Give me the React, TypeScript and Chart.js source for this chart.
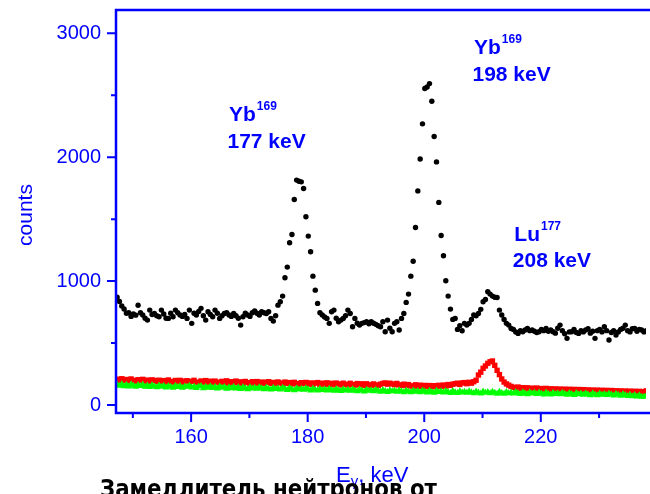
import { useEffect, useRef } from 'react';
import { Chart, registerables } from 'chart.js';
Chart.register(...registerables);

// channel calibration: energy of first channel and channel width (keV)
const E_START = 147.3;
const E_STEP = 0.4;

const blackCounts = [
  870, 835, 800, 775, 740, 745, 715, 735, 725, 805,
  745, 726, 700, 685, 766, 730, 739, 720, 712, 766,
  735, 700, 699, 740, 712, 766, 745, 726, 715, 730,
  699, 766, 659, 740, 726, 755, 780, 720, 685, 753,
  730, 712, 766, 740, 699, 720, 739, 745, 726, 715,
  739, 720, 700, 645, 712, 740, 726, 715, 745, 760,
  740, 726, 753, 745, 739, 753, 699, 677, 720, 806,
  833, 879, 1027, 1113, 1309, 1376, 1659, 1815, 1806, 1801,
  1747, 1519, 1363, 1237, 1040, 927, 820, 744, 726, 710,
  699, 659, 753, 766, 700, 672, 685, 699, 720, 766,
  739, 632, 699, 660, 645, 659, 665, 672, 655, 672,
  660, 651, 640, 632, 672, 591, 685, 620, 591, 659,
  672, 605, 699, 739, 828, 895, 1040, 1160, 1433, 1728,
  1986, 2269, 2554, 2567, 2594, 2452, 2167, 1962, 1635, 1368,
  1204, 1003, 879, 774, 691, 699, 610, 640, 599, 659,
  645, 659, 690, 726, 720, 739, 772, 833, 852, 914,
  895, 879, 870, 868, 766, 726, 690, 659, 645, 618,
  610, 590, 578, 600, 591, 605, 618, 600, 605, 595,
  585, 591, 610, 600, 618, 595, 605, 591, 580, 620,
  645, 600, 575, 538, 590, 591, 610, 585, 578, 600,
  590, 605, 615, 580, 595, 538, 600, 610, 590, 632,
  600, 524, 585, 600, 565, 590, 610, 620, 645, 600,
  590, 615, 618, 595, 610, 605, 590, 600,
];

const redCounts = [
  208, 198, 212, 196, 206, 192, 210, 199, 190, 204,
  195, 207, 191, 201, 188, 203, 198, 189, 200, 186,
  197, 185, 202, 190, 184, 198, 187, 199, 182, 193,
  196, 183, 191, 199, 185, 180, 194, 184, 197, 181,
  192, 179, 193, 184, 178, 191, 181, 195, 176, 188,
  182, 193, 177, 187, 175, 190, 180, 174, 188, 176,
  189, 175, 185, 173, 184, 188, 174, 182, 171, 186,
  178, 170, 185, 174, 181, 169, 183, 173, 167, 180,
  172, 182, 168, 178, 166, 177, 181, 167, 176, 165,
  179, 166, 175, 163, 177, 170, 162, 176, 167, 161,
  175, 165, 160, 173, 164, 171, 159, 171, 163, 158,
  170, 162, 157, 168, 174, 178, 168, 176, 170, 164,
  174, 162, 158, 168, 156, 165, 154, 152, 163, 150,
  160, 149, 158, 147, 157, 146, 156, 150, 159, 151,
  161, 153, 165, 158, 168, 172, 176, 166, 178, 181,
  172, 183, 176, 188, 200, 242, 265, 296, 315, 336,
  349, 355, 320, 280, 245, 210, 185, 170, 160, 150,
  143, 136, 145, 131, 140, 129, 139, 127, 136, 126,
  137, 124, 133, 122, 134, 121, 131, 120, 130, 118,
  129, 117, 128, 116, 127, 115, 126, 113, 125, 112,
  124, 111, 122, 109, 121, 108, 120, 107, 119, 106,
  118, 105, 117, 104, 115, 103, 114, 102, 113, 101,
  112, 100, 111, 99, 110, 98, 108, 114,
];

const greenCounts = [
  166, 155, 170, 152, 163, 149, 168, 156, 147, 162,
  153, 165, 148, 158, 145, 162, 152, 143, 157, 148,
  156, 142, 154, 147, 140, 156, 145, 153, 139, 150,
  147, 155, 141, 150, 138, 149, 154, 136, 148, 140,
  151, 137, 147, 134, 149, 140, 145, 132, 144, 136,
  148, 133, 144, 130, 146, 136, 128, 143, 133, 140,
  131, 144, 135, 127, 141, 132, 125, 140, 130, 135,
  126, 139, 131, 122, 137, 128, 120, 136, 126, 132,
  123, 136, 127, 118, 133, 124, 116, 132, 122, 128,
  118, 131, 122, 114, 129, 120, 112, 128, 118, 124,
  114, 127, 118, 110, 125, 116, 109, 124, 114, 120,
  110, 123, 115, 106, 121, 112, 105, 120, 110, 116,
  106, 119, 111, 103, 118, 108, 102, 117, 107, 113,
  103, 116, 108, 100, 115, 105, 99, 114, 104, 110,
  101, 113, 105, 97, 112, 103, 96, 111, 101, 107,
  98, 110, 102, 94, 109, 100, 93, 108, 98, 104,
  95, 107, 99, 91, 106, 97, 90, 105, 95, 101,
  92, 104, 96, 88, 103, 94, 87, 102, 92, 98,
  89, 101, 93, 85, 100, 91, 84, 99, 89, 95,
  86, 98, 90, 82, 97, 88, 81, 96, 86, 92,
  83, 95, 87, 79, 94, 85, 78, 93, 83, 89,
  80, 92, 84, 76, 91, 82, 75, 89, 80, 72,
  82, 70, 80, 69, 78, 67, 66, 74,
];

const xTickLabels = [160, 180, 200, 220];
const xMinorTicks = [150, 170, 190, 210, 230];
const yTickLabels = [0, 1000, 2000, 3000];
const yMinorTicks = [500, 1500, 2500];

const peakLabels = [
  { iso: 'Yb', mass: '169', energy: '177 keV' },
  { iso: 'Yb', mass: '169', energy: '198 keV' },
  { iso: 'Lu', mass: '177', energy: '208 keV' },
];

const BLUE = '#0000ff';
const FONT = '"Liberation Sans", Arial, sans-serif';

const toPoints = (arr: number[]) => arr.map((c, i) => ({ x: E_START + i * E_STEP, y: c }));

const decorPlugin = {
  id: 'decor',
  afterDraw(chart: any) {
    const { ctx, chartArea, scales } = chart;
    const { left, top, right, bottom } = chartArea;
    const x = scales.x;
    const y = scales.y;
    ctx.save();
    ctx.strokeStyle = BLUE;
    ctx.lineWidth = 2.5;
    ctx.lineCap = 'square';
    ctx.beginPath();
    ctx.moveTo(right + 5, top);
    ctx.lineTo(left, top);
    ctx.lineTo(left, bottom);
    ctx.lineTo(right + 5, bottom);
    ctx.stroke();
    ctx.lineCap = 'butt';
    ctx.lineWidth = 2;
    ctx.beginPath();
    yTickLabels.forEach((v) => { const p = y.getPixelForValue(v); ctx.moveTo(left, p); ctx.lineTo(left - 9, p); });
    yMinorTicks.forEach((v) => { const p = y.getPixelForValue(v); ctx.moveTo(left, p); ctx.lineTo(left - 5, p); });
    xTickLabels.forEach((v) => { const p = x.getPixelForValue(v); ctx.moveTo(p, bottom); ctx.lineTo(p, bottom + 9); });
    xMinorTicks.forEach((v) => { const p = x.getPixelForValue(v); ctx.moveTo(p, bottom); ctx.lineTo(p, bottom + 5); });
    ctx.stroke();

    // y title
    ctx.fillStyle = BLUE;
    ctx.save();
    ctx.translate(31.5, 215);
    ctx.rotate(-Math.PI / 2);
    ctx.font = `21px ${FONT}`;
    ctx.textAlign = 'center';
    ctx.textBaseline = 'alphabetic';
    ctx.fillText('counts', 0, 0);
    ctx.restore();

    // x title
    ctx.textAlign = 'left';
    ctx.textBaseline = 'alphabetic';
    ctx.font = `22px ${FONT}`;
    let tx = 336;
    ctx.fillText('E', tx, 481.5);
    tx += ctx.measureText('E').width;
    ctx.font = `15px ${FONT}`;
    ctx.fillText('\u03b3', tx, 486);
    tx += ctx.measureText('\u03b3').width;
    ctx.font = `22px ${FONT}`;
    ctx.fillText(', keV', tx, 481.5);

    // peak annotations
    const pos = [
      { x: 229, y1: 121, y2: 147.7 },
      { x: 474, y1: 54.3, y2: 80.7 },
      { x: 514.3, y1: 240.7, y2: 267.3 },
    ];
    peakLabels.forEach((pl, k) => {
      const p = pos[k];
      ctx.font = `bold 21px ${FONT}`;
      ctx.fillText(pl.iso, p.x, p.y1);
      const w = ctx.measureText(pl.iso).width;
      ctx.fillText(pl.energy, p.x - 1.5, p.y2);
      ctx.font = `bold 12px ${FONT}`;
      ctx.fillText(pl.mass, p.x + w + 1, p.y1 - 11);
    });

    // caption below
    ctx.fillStyle = '#000';
    ctx.font = `bold 25px "DejaVu Sans", sans-serif`;
    ctx.fillText('Замедлитель нейтронов от', 100, 497, 337);
    ctx.restore();
  },
};

export default function App() {
  const ref = useRef<HTMLCanvasElement | null>(null);
  useEffect(() => {
    if (!ref.current) return;
    const chart = new Chart(ref.current, {
      type: 'scatter',
      data: {
        datasets: [
          {
            data: toPoints(blackCounts),
            pointStyle: 'circle',
            pointRadius: 2.7,
            pointBorderWidth: 0,
            pointBackgroundColor: '#000',
            pointBorderColor: '#000',
            showLine: false,
          },
          {
            data: toPoints(greenCounts),
            pointStyle: 'triangle',
            pointRadius: 4,
            pointBorderWidth: 0,
            pointBackgroundColor: '#00ff00',
            pointBorderColor: '#00ff00',
            showLine: false,
          },
          {
            data: toPoints(redCounts),
            pointStyle: 'rect',
            pointRadius: 3.8,
            pointBorderWidth: 0,
            pointBackgroundColor: '#ff0000',
            pointBorderColor: '#ff0000',
            showLine: false,
          },
        ],
      },
      options: {
        animation: false,
        responsive: false,
        events: [],
        layout: { padding: { top: 10, left: 0, right: 0, bottom: 0 } },
        plugins: { legend: { display: false }, tooltip: { enabled: false } },
        scales: {
          x: {
            type: 'linear',
            min: 147.11,
            max: 238.05,
            grid: { display: false, drawTicks: false },
            border: { display: false },
            ticks: {
              color: BLUE,
              font: { family: FONT, size: 20 },
              padding: 12,
              callback: (v: any) => String(v),
            },
            afterBuildTicks: (s: any) => { s.ticks = xTickLabels.map((v) => ({ value: v })); },
            afterFit: (s: any) => { s.height = 81; s.paddingLeft = 0; s.paddingRight = 0; },
          },
          y: {
            type: 'linear',
            min: -64.6,
            max: 3188,
            grid: { display: false, drawTicks: false },
            border: { display: false },
            ticks: {
              color: BLUE,
              font: { family: FONT, size: 20 },
              padding: 15,
              callback: (v: any) => String(v),
            },
            afterBuildTicks: (s: any) => { s.ticks = yTickLabels.map((v) => ({ value: v })); },
            afterFit: (s: any) => { s.width = 116; s.paddingTop = 0; s.paddingBottom = 0; },
          },
        },
      },
      plugins: [decorPlugin],
    });
    return () => chart.destroy();
  }, []);
  return (
    <div style={{ position: 'absolute', left: 0, top: 0, width: 650, height: 494, background: '#fff' }}>
      <canvas ref={ref} width={650} height={494} />
    </div>
  );
}
